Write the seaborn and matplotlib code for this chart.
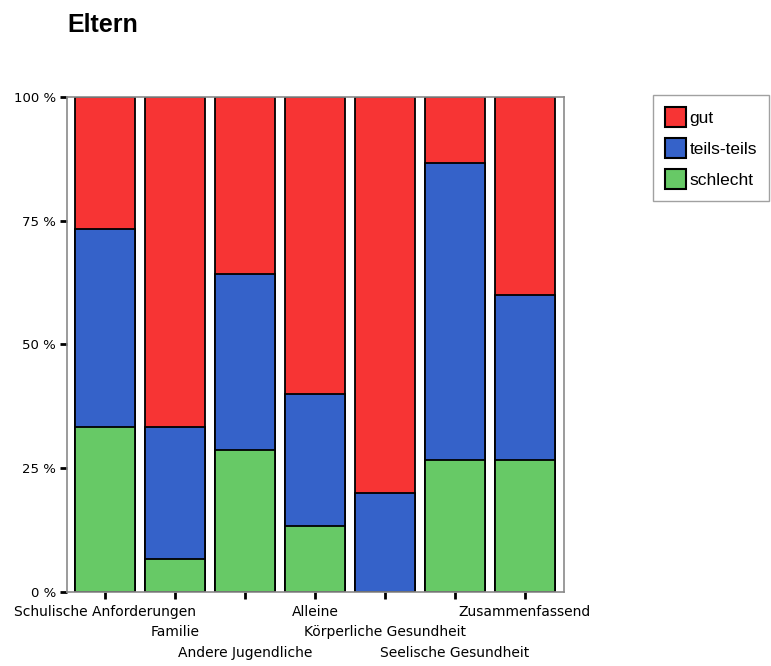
import matplotlib
matplotlib.use("Agg")
import matplotlib.pyplot as plt
from matplotlib.patches import Patch
import seaborn as sns
import pandas as pd
import numpy as np

categories = ["Schulische Anforderungen", "Familie", "Andere Jugendliche", "Alleine",
              "Körperliche Gesundheit", "Seelische Gesundheit", "Zusammenfassend"]
schlecht = [33.3, 6.7, 28.6, 13.3, 0.0, 26.7, 26.7]
teils_teils = [40.0, 26.7, 35.7, 26.7, 20.0, 60.0, 33.3]
gut = [26.7, 66.6, 35.7, 60.0, 80.0, 13.3, 40.0]
series_names = ["gut", "teils-teils", "schlecht"]
colors = {"gut": "#F73434", "teils-teils": "#3562C9", "schlecht": "#67C966"}
y_ticks = [0, 25, 50, 75, 100]
y_tick_labels = ["0 %", "25 %", "50 %", "75 %", "100 %"]

sns.set_theme(style="white")
plt.rcParams["font.family"] = ["DejaVu Sans"]
plt.rcParams["text.color"] = "black"
plt.rcParams["xtick.color"] = "black"
plt.rcParams["ytick.color"] = "black"

df = pd.DataFrame({"cat": categories, "schlecht": schlecht,
                   "teils-teils": teils_teils, "gut": gut})
df["top_schlecht"] = df["schlecht"]
df["top_teils"] = df["schlecht"] + df["teils-teils"]
df["top_gut"] = df["top_teils"] + df["gut"]

fig = plt.figure(figsize=(7.71, 6.66), dpi=100)
ax = fig.add_axes([0.0869, 0.1111, 0.6446, 0.7433])

for col, name in [("top_gut", "gut"), ("top_teils", "teils-teils"), ("top_schlecht", "schlecht")]:
    sns.barplot(data=df, x="cat", y=col, color=colors[name], saturation=1,
                width=0.87, edgecolor="black", linewidth=1.3, ax=ax, order=categories)

ax.set_xlim(-0.543, 6.557)
ax.set_ylim(0, 100)
ax.set_xlabel("")
ax.set_ylabel("")
ax.set_yticks(y_ticks)
ax.set_yticklabels(y_tick_labels, fontsize=9.5, color="black")
ax.set_xticks(range(len(categories)))
ax.set_xticklabels([])
ax.tick_params(axis="both", which="both", direction="out", length=5, width=2,
               color="black", left=True, bottom=True, pad=3)

for s in ax.spines.values():
    s.set_color("#8a8a8a")
    s.set_linewidth(1.2)

# staggered category labels in three rows
offsets = [9, 24, 39]
for i, lab in enumerate(categories):
    ax.annotate(lab, xy=(i, 0), xycoords=("data", "axes fraction"),
                xytext=(0, -offsets[i % 3]), textcoords="offset points",
                ha="center", va="top", fontsize=10, color="black",
                annotation_clip=False)

fig.text(0.087, 0.962, "Eltern", fontsize=18, fontweight="bold", ha="left", va="center",
         color="black", family=["Liberation Sans"])

handles = [Patch(facecolor=colors[n], edgecolor="black", linewidth=1.5, label=n)
           for n in series_names]
leg = fig.legend(handles=handles, loc="upper left", bbox_to_anchor=(0.847, 0.857),
                 frameon=True, fancybox=False, shadow=False,
                 prop={"family": "Liberation Sans", "size": 12.5},
                 handlelength=1.2, handleheight=1.4, handletextpad=0.2,
                 labelspacing=0.62, borderpad=0.7, borderaxespad=0,
                 edgecolor="#8a8a8a")
leg.get_frame().set_linewidth(1.0)
for t in leg.get_texts():
    t.set_color("black")

fig.savefig("out.png", dpi=100)
